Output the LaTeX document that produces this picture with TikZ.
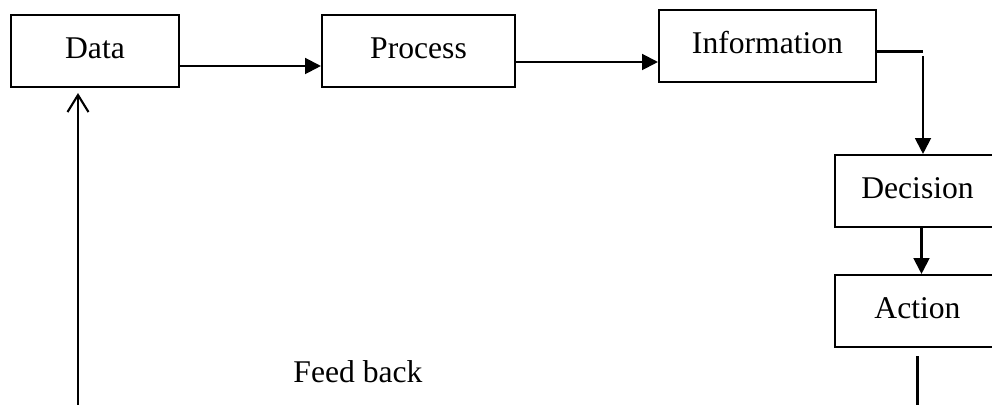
\documentclass[tikz,border=0pt]{standalone}
\usepackage{fontspec}
\setmainfont{Liberation Serif}
\usetikzlibrary{arrows.meta}

\begin{document}
\begin{tikzpicture}[x=0.02cm, y=-0.02cm, line width=1.2pt,
  box/.style={draw, rectangle, minimum height=1.44cm, text height=0.7em, text depth=0.25em},
  flow/.style={-{Triangle[length=9pt, width=9pt]}}]
\useasboundingbox (0,0) rectangle (992,405);
\fontsize{18}{22}\selectfont

\node[box, minimum width=3.36cm] (data) at (95,51) {Data};
\node[box, minimum width=3.86cm] (proc) at (418.5,51) {Process};
\node[box, minimum width=4.34cm] (info) at (767.5,46) {Information};
\node[box, minimum width=3.30cm] (dec) at (917.5,191) {Decision};
\node[box, minimum width=3.30cm] (act) at (917.5,311) {Action};
\node (fb) at (358,372) {Feed back};

\coordinate (bend) at (923,51.5);
\coordinate (fbin) at (78,405);
\coordinate (fbout) at (917.5,405);

\draw[flow] ([yshift=-0.3cm]data.east) -- ([yshift=-0.3cm]data.east -| proc.west);
\draw[flow] ([yshift=-0.22cm]proc.east) -- ([yshift=-0.22cm]proc.east -| info.west);
\draw (info.east |- bend) -- (bend);
\draw[flow, shorten <=0.1cm] (bend) -- (bend |- dec.north);
\draw[flow] ([xshift=0.08cm]dec.south) -- ([xshift=0.08cm]act.north);
\draw[shorten <=0.16cm] (act.south) -- (fbout);
\draw[-{Straight Barb[length=0.34cm, width=0.42cm]}, shorten >=0.1cm] (fbin) -- (fbin |- data.south);

\end{tikzpicture}
\end{document}
